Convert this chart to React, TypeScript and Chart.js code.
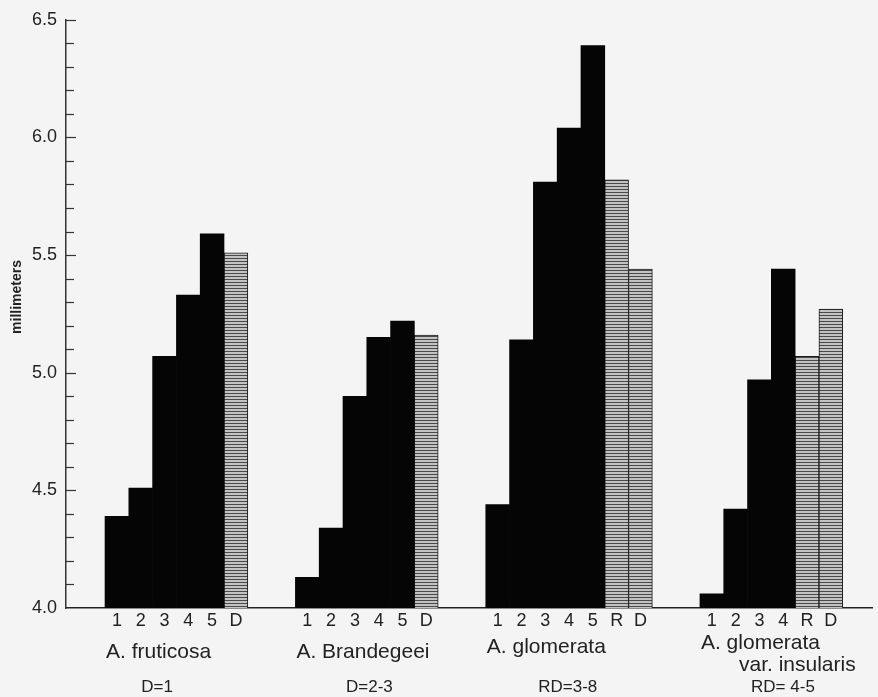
import React, { useEffect, useRef } from "react";
import { Chart, registerables } from "chart.js";

Chart.register(...registerables);

// ---- data ----
const groupNames = ["A. fruticosa", "A. Brandegeei", "A. glomerata", "A. glomerata"];
const groupSubNames = ["", "", "", "var. insularis"];
const groupNotes = ["D=1", "D=2-3", "RD=3-8", "RD= 4-5"];
const barLabels1 = ["1", "2", "3", "4", "5", "D"];
const barLabels2 = ["1", "2", "3", "4", "5", "D"];
const barLabels3 = ["1", "2", "3", "4", "5", "R", "D"];
const barLabels4 = ["1", "2", "3", "4", "R", "D"];
const barValues1 = [4.39, 4.51, 5.07, 5.33, 5.59, 5.51];
const barValues2 = [4.13, 4.34, 4.9, 5.15, 5.22, 5.16];
const barValues3 = [4.44, 5.14, 5.81, 6.04, 6.39, 5.82, 5.44];
const barValues4 = [4.06, 4.42, 4.97, 5.44, 5.07, 5.27];
const yTickLabels = ["4.0", "4.5", "5.0", "5.5", "6.0", "6.5"];
const yAxisTitle = "millimeters";

const groupLabels = [barLabels1, barLabels2, barLabels3, barLabels4];
const groupValues = [barValues1, barValues2, barValues3, barValues4];

// ---- layout constants (not data) ----
const W = 878;
const H = 697;
const GAP_SLOTS = 2;
const X_MIN = -2.14;
const X_MAX = 31.73;
const noteDx = [52, 74, 82, 83];
const nameY = [652, 652, 647, 643];
const TEXT = "#222";
const FONT = "'Liberation Sans', Arial, sans-serif";

// build positions from data
const blackPts: { x: number; y: number }[] = [];
const rPts: { x: number; y: number }[] = [];
const dPts: { x: number; y: number }[] = [];
const tickPos: number[] = [];
const tickLabel = new Map<number, string>();
const groupStart: number[] = [];
{
  let pos = 0;
  groupLabels.forEach((labels, g) => {
    groupStart.push(pos);
    labels.forEach((lab, i) => {
      const pt = { x: pos, y: groupValues[g][i] };
      if (lab === "R") rPts.push(pt);
      else if (lab === "D") dPts.push(pt);
      else blackPts.push(pt);
      tickPos.push(pos);
      tickLabel.set(pos, lab);
      pos++;
    });
    pos += GAP_SLOTS;
  });
}

function makeHatch(): CanvasPattern | string {
  const c = document.createElement("canvas");
  c.width = 8;
  c.height = 3;
  const cx = c.getContext("2d");
  if (!cx) return "#999";
  cx.fillStyle = "#c2c2c2";
  cx.fillRect(0, 0, 8, 3);
  cx.fillStyle = "#4a4a4a";
  cx.fillRect(0, 0, 8, 1);
  const p = cx.createPattern(c, "repeat");
  return p || "#999";
}

const decorPlugin = {
  id: "decor",
  afterDraw(chart: any) {
    const { ctx, chartArea, scales } = chart;
    const x = scales.x;
    const y = scales.y;
    ctx.save();
    // inward minor ticks every 0.1
    ctx.strokeStyle = "#333";
    ctx.lineWidth = 1.2;
    for (let k = 1; k <= 25; k++) {
      const v = 4 + k * 0.1;
      const py = Math.round(y.getPixelForValue(v)) + 0.5;
      const len = k % 5 === 0 ? 10 : 8;
      ctx.beginPath();
      ctx.moveTo(chartArea.left, py);
      ctx.lineTo(chartArea.left + len, py);
      ctx.stroke();
    }
    // y axis title
    ctx.fillStyle = TEXT;
    ctx.font = `bold 14px ${FONT}`;
    ctx.textAlign = "center";
    ctx.textBaseline = "middle";
    ctx.save();
    ctx.translate(17, 297);
    ctx.rotate(-Math.PI / 2);
    ctx.fillText(yAxisTitle, 0, 0);
    ctx.restore();
    // group names and notes
    groupNames.forEach((name, g) => {
      const left = x.getPixelForValue(groupStart[g] - 0.5);
      ctx.font = `21px ${FONT}`;
      ctx.textAlign = "left";
      ctx.fillText(name, left + 1, nameY[g]);
      if (groupSubNames[g]) {
        ctx.fillText(groupSubNames[g], left + 39, 665);
      }
      ctx.font = `17px ${FONT}`;
      ctx.textAlign = "center";
      ctx.fillText(groupNotes[g], left + noteDx[g], 687);
    });
    ctx.restore();
  },
};

export default function App() {
  const ref = useRef<HTMLCanvasElement | null>(null);
  useEffect(() => {
    if (!ref.current) return;
    const hatch = makeHatch();
    const hatchedStyle = {
      backgroundColor: hatch as any,
      borderColor: "#1a1a1a",
      borderWidth: { left: 1, right: 1, top: 1, bottom: 0 },
      borderSkipped: false as any,
    };
    const chart = new Chart(ref.current, {
      type: "bar",
      data: {
        datasets: [
          {
            label: "samples",
            data: blackPts as any,
            backgroundColor: "#050505",
            borderWidth: 0,
            grouped: false,
            barPercentage: 1,
            categoryPercentage: 1,
          },
          {
            label: "R",
            data: rPts as any,
            ...hatchedStyle,
            grouped: false,
            barPercentage: 1,
            categoryPercentage: 1,
          },
          {
            label: "D",
            data: dPts as any,
            ...hatchedStyle,
            grouped: false,
            barPercentage: 1,
            categoryPercentage: 1,
          },
        ],
      },
      options: {
        animation: false,
        responsive: false,
        maintainAspectRatio: false,
        layout: { padding: { top: 17, right: 6, left: 0, bottom: 0 } },
        plugins: { legend: { display: false }, tooltip: { enabled: false } },
        scales: {
          x: {
            type: "linear",
            min: X_MIN,
            max: X_MAX,
            offset: false,
            grid: { display: false, drawTicks: false },
            border: { display: true, color: "#222", width: 1.5 },
            afterBuildTicks: (s: any) => {
              s.ticks = tickPos.map((v) => ({ value: v }));
            },
            afterFit: (s: any) => {
              s.height = 89;
            },
            ticks: {
              autoSkip: false,
              maxRotation: 0,
              padding: 2,
              color: TEXT,
              font: { size: 18, family: FONT },
              callback: (v: any) => tickLabel.get(Number(v)) ?? "",
            },
          },
          y: {
            min: 4,
            max: 6.5,
            beginAtZero: false,
            grid: { display: false, drawTicks: false },
            border: { display: true, color: "#333", width: 1.5 },
            afterFit: (s: any) => {
              s.width = 66;
            },
            afterBuildTicks: (s: any) => {
              s.ticks = yTickLabels.map((t) => ({ value: parseFloat(t) }));
            },
            ticks: {
              padding: 9,
              color: TEXT,
              font: { size: 18, family: FONT },
              callback: (v: any) => yTickLabels.find((t) => parseFloat(t) === Number(v)) ?? "",
            },
          },
        },
      } as any,
      plugins: [decorPlugin],
    });
    return () => chart.destroy();
  }, []);
  return (
    <div
      style={{
        position: "fixed",
        left: 0,
        top: 0,
        width: W,
        height: H,
        background: "#f4f4f4",
      }}
    >
      <canvas ref={ref} width={W} height={H} style={{ display: "block", width: W, height: H }} />
    </div>
  );
}
